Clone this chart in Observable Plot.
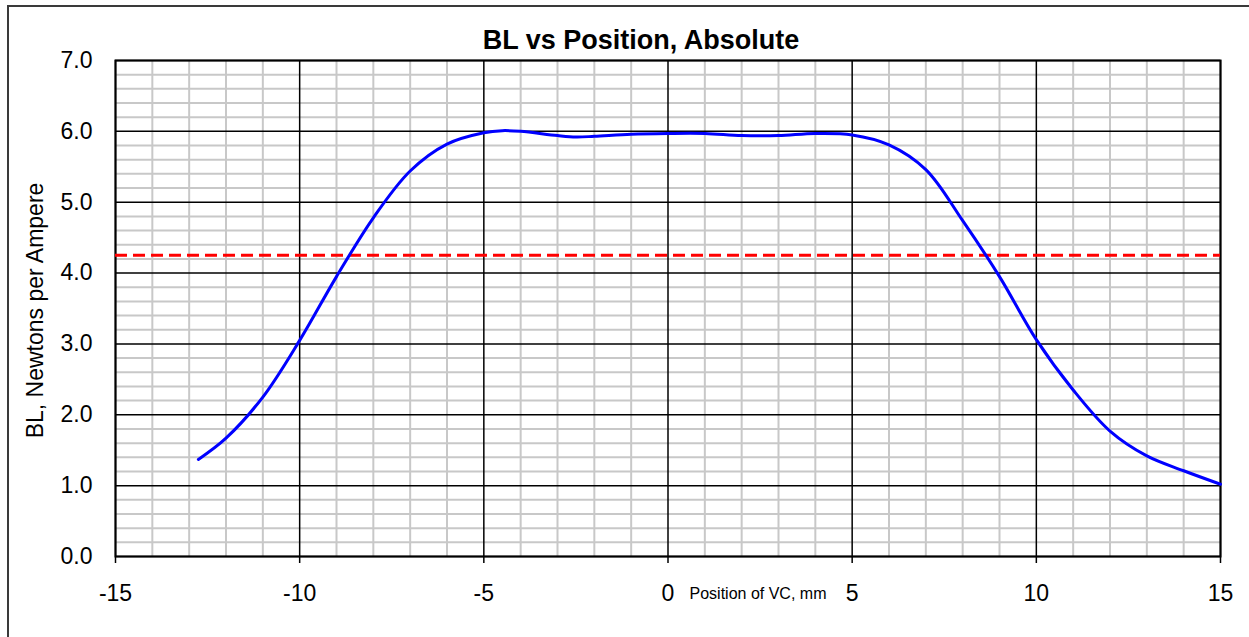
<!DOCTYPE html>
<html><head><meta charset="utf-8">
<script src="https://cdn.jsdelivr.net/npm/d3@7"></script>
<script src="https://cdn.jsdelivr.net/npm/@observablehq/plot@0.6"></script>
<style>
body{margin:0;background:#fff;}
#wrap{position:relative;width:1249px;height:637px;overflow:hidden;}
#wrap svg{position:absolute;left:0;top:0;}
#border{position:absolute;left:7px;top:5px;width:1300px;height:700px;border:2px solid #3a3a3a;box-sizing:border-box;pointer-events:none;}
</style></head><body><div id="wrap"><div id="border"></div></div>
<script>
const position = [-12.75, -12, -11, -10, -9, -8, -7, -6, -5, -4.5, -4, -3, -2.5, -2, -1, 0, 1, 2, 3, 4, 5, 6, 7, 8, 9, 10, 11, 12, 13, 14, 15];
const bl = [1.37, 1.67, 2.25, 3.05, 3.95, 4.78, 5.44, 5.82, 5.98, 6.01, 6.0, 5.94, 5.92, 5.93, 5.96, 5.97, 5.97, 5.94, 5.94, 5.97, 5.95, 5.81, 5.46, 4.74, 3.95, 3.06, 2.35, 1.77, 1.42, 1.21, 1.02];
const xTicks = [-15, -10, -5, 0, 5, 10, 15];
const yTicks = [0, 1, 2, 3, 4, 5, 6, 7];
const threshold = [4.25];
const title = "BL vs Position, Absolute";
const xLabel = "Position of VC, mm";
const yLabel = "BL, Newtons per Ampere";

const data = position.map((x, i) => ({x, y: bl[i]}));
const minorX = d3.range(-15, 16, 1).filter(v => v % 5 !== 0);
const minorY = d3.range(1, 35).filter(i => i % 5 !== 0).map(i => i / 5);

const chart = Plot.plot({
  width: 1249,
  height: 637,
  marginLeft: 115,
  marginRight: 29,
  marginTop: 60,
  marginBottom: 81,
  style: {fontFamily: "'Liberation Sans', Arial, sans-serif", background: "transparent", color: "#000"},
  x: {domain: [-15, 15]},
  y: {domain: [0, 7]},
  marks: [
    Plot.ruleX(minorX, {stroke: "#c8c8c8", strokeWidth: 2}),
    Plot.ruleY(minorY, {stroke: "#c8c8c8", strokeWidth: 2}),
    Plot.ruleX(xTicks, {stroke: "#000", strokeWidth: 1.5}),
    Plot.ruleY(yTicks, {stroke: "#000", strokeWidth: 1.5}),
    Plot.frame({stroke: "#000", strokeWidth: 2}),
    Plot.ruleY(threshold, {stroke: "#ff0000", strokeWidth: 3, strokeDasharray: "12,6"}),
    Plot.line(data, {x: "x", y: "y", stroke: "#0000ff", strokeWidth: 3, curve: "catmull-rom"}),
    Plot.axisX(xTicks, {tickSize: 7, tickPadding: 21, fontSize: 23, tickFormat: d => String(d), label: null, strokeWidth: 1.5}),
    Plot.axisY(yTicks, {tickSize: 0, tickPadding: 23, fontSize: 23, tickFormat: d => d.toFixed(1), label: null}),
    Plot.text([title], {frameAnchor: "top", lineAnchor: "middle", dx: -27, dy: -20, fontSize: 27, fontWeight: "bold"}),
    Plot.text([xLabel], {frameAnchor: "bottom", lineAnchor: "middle", dx: 90, dy: 37, fontSize: 16}),
    Plot.text([yLabel], {frameAnchor: "left", textAnchor: "middle", lineAnchor: "middle", dx: -80, dy: 2, rotate: -90, fontSize: 23})
  ]
});
document.getElementById("wrap").prepend(chart);
</script>
</body></html>
